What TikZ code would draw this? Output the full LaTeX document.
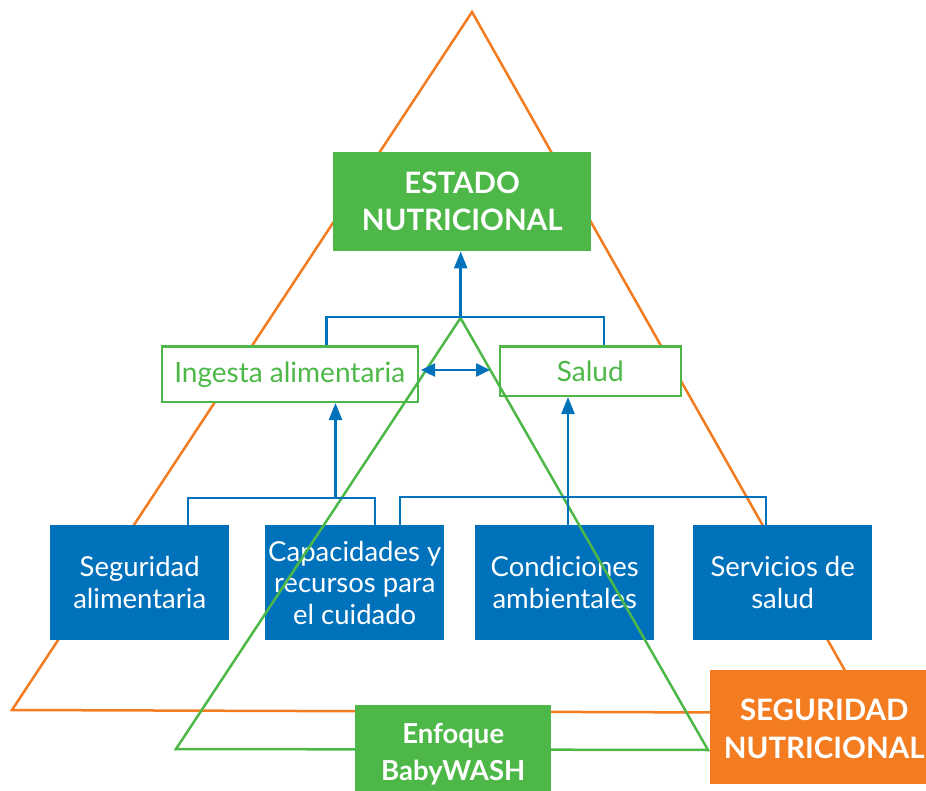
\documentclass[tikz,border=0pt]{standalone}
\usepackage{fontspec}
\setmainfont{Lato}
\usetikzlibrary{arrows.meta}
\definecolor{cblue}{RGB}{0,114,188}
\definecolor{cgreen}{RGB}{77,184,72}
\definecolor{corange}{RGB}{243,123,32}
\tikzset{
  bluebox/.style={fill=cblue, text=white, minimum width=179pt, minimum height=115pt, inner sep=0pt, align=center, font=\fontsize{27.5}{31.5}\selectfont},
  greenhead/.style={fill=cgreen, text=white, inner sep=0pt, align=center, font=\bfseries\fontsize{29.5}{37}\selectfont},
  outlinebox/.style={draw=cgreen, line width=2.5pt, fill=white, text=cgreen, inner sep=0pt, font=\fontsize{28}{32}\selectfont},
  conn/.style={draw=cblue, line width=2.5pt},
  tip/.style={-{Triangle[width=13pt,length=17pt]}},
  tri/.style={line width=2.5pt, line join=miter},
  whitetext/.style={text=white, align=center, inner sep=0pt},
}
\begin{document}
\begin{tikzpicture}[x=1pt,y=-1pt]
\useasboundingbox (0,0) rectangle (926,791);
% orange triangle
\coordinate (oA) at (472,12);
\coordinate (oB) at (12,710);
\coordinate (oC) at (869,713);
\draw[tri, corange] (oA) -- (oB) -- (oC) -- cycle;
% blue boxes
\node[bluebox, anchor=north west] (seg) at (50,525) {Seguridad\\alimentaria};
\node[bluebox, anchor=north west] (cap) at (265,525) {Capacidades y\\recursos para\\el cuidado};
\node[bluebox, anchor=north west] (cond) at (475,525) {Condiciones\\ambientales};
\node[bluebox, anchor=north west] (serv) at (693,525) {Servicios de\\salud};
% top box
\node[greenhead, anchor=north west, minimum width=258pt, minimum height=99pt] (estado) at (333,152) {ESTADO\\NUTRICIONAL};
% middle boxes
\node[outlinebox, anchor=north west, minimum width=256pt, minimum height=55pt] (ingesta) at (160.5,345.5) {Ingesta alimentaria};
\node[outlinebox, anchor=north west, minimum width=181pt, minimum height=49pt] (salud) at (498.5,345.5) {Salud};
% green triangle
\coordinate (gA) at (460.5,318);
\coordinate (gB) at (176,749);
\coordinate (gC) at (708,750);
\draw[tri, cgreen] (gA) -- (gB) -- (gC) -- cycle;
% upper connectors
\coordinate (b1L) at (326.7,317);
\coordinate (b1R) at (604,317);
\coordinate (j1) at (460.7,317);
\draw[conn] (b1L |- ingesta.north) -- (b1L) -- (b1R) -- (b1R |- salud.north);
\draw[conn, tip] (j1) -- (j1 |- estado.south);
\coordinate (da1) at (421,370);
\coordinate (da2) at (490,370);
\draw[conn, {Triangle[width=13pt,length=14pt]}-{Triangle[width=13pt,length=14pt]}] (da1) -- (da2);
% lower connectors
\coordinate (b2L) at (188,498);
\coordinate (b2R) at (375,498);
\coordinate (j2) at (335.5,498);
\draw[conn] (b2L |- seg.north) -- (b2L) -- (b2R) -- (b2R |- cap.north);
\draw[conn, tip] (j2) -- (j2 |- ingesta.south);
\coordinate (b3L) at (400,497);
\coordinate (b3R) at (766,497);
\coordinate (j3) at (568,497);
\draw[conn] (b3L |- cap.north) -- (b3L) -- (b3R) -- (b3R |- serv.north);
\draw[conn, tip] (j3 |- cond.north) -- (j3 |- salud.south);
% bottom boxes
\node[anchor=north west, fill=cgreen, minimum width=196pt, minimum height=86pt, inner sep=0pt] (enfoque) at (355,705) {};
\node[whitetext, font=\bfseries\fontsize{27.5}{37}\selectfont] (enfoquetext) at ([yshift=-6pt]enfoque.center) {Enfoque\\BabyWASH};
\node[anchor=north west, fill=corange, minimum width=216pt, minimum height=114pt, inner sep=0pt] (segnut) at (710,670) {};
\node[whitetext, font=\bfseries\fontsize{29.5}{38}\selectfont] (segnuttext) at ([xshift=6pt,yshift=-2pt]segnut.center) {SEGURIDAD\\NUTRICIONAL};
\end{tikzpicture}
\end{document}
